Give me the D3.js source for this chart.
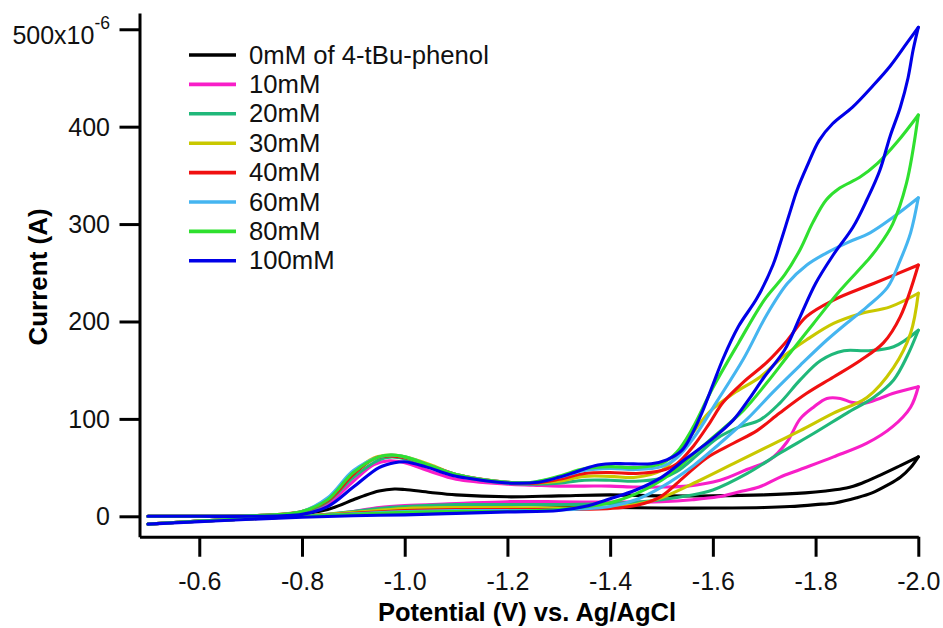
<!DOCTYPE html>
<html>
<head>
<meta charset="utf-8">
<script src="https://cdn.jsdelivr.net/npm/d3@7"></script>
<style>
  body { margin: 0; background: #fff; }
  svg { display: block; font-family: "Liberation Sans", Arial, sans-serif; }
</style>
</head>
<body>
<div id="vis-container"></div>
<script>
// potential in V vs Ag/AgCl, current in microamps (axis reads x10^-6 A)
// fwd = scan from -0.5 V out to -2.0 V, rev = the way back
let fwd0 = [[-0.5,-8],[-0.6,-5],[-0.7,-2.5],[-0.8,0],[-0.9,2],[-1.0,4],[-1.1,5.5],[-1.2,7],[-1.3,9],[-1.4,9],[-1.5,8.5],[-1.6,8.5],[-1.7,9],[-1.75,10],[-1.8,12],[-1.84,14],[-1.88,19],[-1.91,24],[-1.94,32],[-1.965,40],[-1.985,50],[-2.0,61]];
let rev0 = [[-2.0,61],[-1.965,52],[-1.925,42],[-1.89,34],[-1.86,29],[-1.82,26],[-1.78,24],[-1.7,22],[-1.6,21],[-1.5,21],[-1.4,22],[-1.3,21],[-1.2,20],[-1.1,22],[-1.05,24.5],[-1.0,27.5],[-0.98,28],[-0.95,26],[-0.92,21],[-0.9,17],[-0.85,7],[-0.8,2.5],[-0.7,0.5],[-0.6,0],[-0.5,0]];

let fwd10 = [[-0.5,-8],[-0.6,-5],[-0.7,-2.5],[-0.8,0],[-0.9,5],[-0.95,9],[-1.0,11],[-1.1,13],[-1.2,15],[-1.3,15],[-1.4,14.5],[-1.5,15],[-1.56,17],[-1.61,20],[-1.65,25],[-1.69,30],[-1.73,40],[-1.77,48],[-1.835,61],[-1.9,75],[-1.95,92],[-1.985,112],[-2.0,133]];
let rev10 = [[-2.0,133],[-1.95,126],[-1.925,121],[-1.894,116],[-1.87,117],[-1.848,121],[-1.822,121],[-1.796,112],[-1.77,100],[-1.744,76],[-1.711,58],[-1.666,48],[-1.614,37],[-1.55,31],[-1.5,30],[-1.45,30],[-1.4,31],[-1.35,31],[-1.3,31],[-1.25,32],[-1.2,33],[-1.1,38],[-1.05,46],[-1.0,55],[-0.97,57],[-0.94,53],[-0.9,36],[-0.85,13],[-0.8,3.5],[-0.7,0.5],[-0.6,0],[-0.5,0]];

let fwd20 = [[-0.5,-8],[-0.6,-5],[-0.7,-2.5],[-0.8,0],[-0.9,5],[-0.95,8],[-1.0,10],[-1.1,12],[-1.2,12],[-1.3,12],[-1.4,13],[-1.5,17],[-1.55,21],[-1.6,27],[-1.667,44],[-1.731,65],[-1.796,85],[-1.861,106],[-1.913,122],[-1.952,140],[-1.978,164],[-2.0,191]];
let rev20 = [[-2.0,191],[-1.952,174],[-1.9,170],[-1.855,170],[-1.81,160],[-1.77,140],[-1.73,116],[-1.692,99],[-1.653,92],[-1.608,80],[-1.57,63],[-1.53,46],[-1.5,39],[-1.45,36],[-1.4,37],[-1.35,37],[-1.3,34],[-1.25,33],[-1.2,34],[-1.1,42],[-1.05,51],[-1.0,59],[-0.975,61],[-0.95,58],[-0.9,40],[-0.85,15],[-0.8,4],[-0.7,0.5],[-0.6,0],[-0.5,0]];

let fwd30 = [[-0.5,-8],[-0.6,-5],[-0.7,-2.5],[-0.8,0],[-0.9,4],[-1.0,8],[-1.1,9],[-1.2,9],[-1.3,8.5],[-1.4,9.5],[-1.45,12],[-1.5,19],[-1.575,37],[-1.64,54],[-1.705,71],[-1.77,88],[-1.835,106],[-1.9,122],[-1.952,153],[-1.985,188],[-2.0,229]];
let rev30 = [[-2.0,229],[-1.945,215],[-1.887,208],[-1.835,198],[-1.782,181],[-1.737,164],[-1.692,143],[-1.64,126],[-1.595,108],[-1.556,82],[-1.53,62],[-1.5,47],[-1.45,40],[-1.4,41],[-1.35,41],[-1.3,36],[-1.25,34],[-1.2,35],[-1.1,43],[-1.05,53],[-1.0,61],[-0.97,63],[-0.94,60],[-0.9,45],[-0.85,18],[-0.8,5],[-0.7,0.5],[-0.6,0],[-0.5,0]];

let fwd40 = [[-0.5,-8],[-0.6,-5],[-0.7,-2.5],[-0.8,0],[-0.9,3],[-1.0,6],[-1.1,7],[-1.2,7],[-1.3,7],[-1.4,8],[-1.45,11],[-1.498,20],[-1.543,40],[-1.588,60],[-1.64,75],[-1.686,88],[-1.73,106],[-1.782,126],[-1.835,143],[-1.887,160],[-1.932,178],[-1.965,205],[-2.0,258]];
let rev40 = [[-2.0,258],[-1.913,239],[-1.835,222],[-1.782,205],[-1.744,180],[-1.705,158],[-1.66,138],[-1.62,117],[-1.594,96],[-1.562,72],[-1.53,54],[-1.5,47],[-1.45,44],[-1.4,45],[-1.35,44],[-1.3,38],[-1.25,34],[-1.2,35],[-1.1,43],[-1.05,52],[-1.0,60],[-0.97,62],[-0.94,59],[-0.9,43],[-0.85,16],[-0.8,5],[-0.7,0.5],[-0.6,0],[-0.5,0]];

let fwd60 = [[-0.5,-8],[-0.6,-5],[-0.7,-2.5],[-0.8,0],[-0.9,2.5],[-1.0,5],[-1.1,6],[-1.2,6],[-1.3,6.5],[-1.4,10],[-1.45,17],[-1.5,30],[-1.562,52],[-1.614,75],[-1.667,100],[-1.718,128],[-1.77,155],[-1.822,181],[-1.86,198],[-1.9,215],[-1.94,235],[-1.965,263],[-1.985,291],[-2.0,327]];
let rev60 = [[-2.0,327],[-1.951,307],[-1.906,291],[-1.862,281],[-1.82,270],[-1.783,258],[-1.745,239],[-1.705,207],[-1.66,162],[-1.608,118],[-1.562,80],[-1.53,60],[-1.5,51],[-1.45,48],[-1.4,49],[-1.35,47],[-1.3,40],[-1.25,35],[-1.2,35],[-1.1,43],[-1.05,52],[-1.0,61],[-0.975,63],[-0.95,61],[-0.9,47],[-0.85,19],[-0.8,5],[-0.7,0.5],[-0.6,0],[-0.5,0]];

let fwd80 = [[-0.5,-8],[-0.6,-5],[-0.7,-2.5],[-0.8,0],[-0.9,2],[-1.0,4],[-1.1,5],[-1.2,5],[-1.3,7],[-1.4,14],[-1.45,23],[-1.5,37],[-1.543,55],[-1.6,81],[-1.66,109],[-1.705,137],[-1.745,164],[-1.796,198],[-1.848,232],[-1.9,262],[-1.92,275],[-1.95,300],[-1.977,342],[-2.0,412]];
let rev80 = [[-2.0,412],[-1.96,385],[-1.92,362],[-1.886,348],[-1.847,337],[-1.821,325],[-1.795,302],[-1.77,274],[-1.74,248],[-1.7,222],[-1.65,178],[-1.6,132],[-1.56,90],[-1.53,66],[-1.5,54],[-1.45,50],[-1.4,51],[-1.35,49],[-1.3,41],[-1.25,35],[-1.2,35],[-1.1,43],[-1.05,52],[-1.0,61],[-0.975,63],[-0.95,61],[-0.9,45],[-0.85,17],[-0.8,5],[-0.7,0.5],[-0.6,0],[-0.5,0]];

let fwd100 = [[-0.5,-8],[-0.6,-5.5],[-0.7,-3],[-0.8,-1],[-0.9,0.5],[-1.0,1.5],[-1.1,3],[-1.2,4.5],[-1.3,6],[-1.35,10],[-1.4,18],[-1.45,27],[-1.5,40],[-1.55,60],[-1.6,80],[-1.64,99],[-1.67,120],[-1.7,143],[-1.74,171],[-1.77,205],[-1.8,239],[-1.834,268],[-1.873,297],[-1.9,325],[-1.925,355],[-1.945,390],[-1.965,420],[-1.98,450],[-1.99,479],[-2.0,502]];
let rev100 = [[-2.0,502],[-1.978,486],[-1.945,462],[-1.91,441],[-1.872,420],[-1.833,403],[-1.807,386],[-1.783,359],[-1.764,335],[-1.75,312],[-1.731,280],[-1.717,258],[-1.686,224],[-1.65,195],[-1.62,162],[-1.6,135],[-1.58,108],[-1.56,85],[-1.54,68],[-1.51,58],[-1.48,54],[-1.43,54],[-1.4,54],[-1.37,52],[-1.33,45],[-1.3,40],[-1.26,35],[-1.21,34],[-1.15,37],[-1.1,41],[-1.08,44],[-1.04,51],[-1.0,56],[-0.98,55],[-0.95,50],[-0.9,30],[-0.85,10],[-0.8,2],[-0.7,0],[-0.6,0],[-0.5,0]];

let labels = ["0mM of 4-tBu-phenol", "10mM", "20mM", "30mM", "40mM", "60mM", "80mM", "100mM"];
let colors = ["#000000", "#f81ec8", "#20b87a", "#c9c800", "#f01010", "#45b5f0", "#2fe02f", "#0000e8"];
let yTicks = [0, 100, 200, 300, 400, 500];
let xTicks = [-0.6, -0.8, -1.0, -1.2, -1.4, -1.6, -1.8, -2.0];

let scans = [
  [fwd0, rev0], [fwd10, rev10], [fwd20, rev20], [fwd30, rev30],
  [fwd40, rev40], [fwd60, rev60], [fwd80, rev80], [fwd100, rev100]
];

let width = 943;
let height = 628;

let x = d3.scaleLinear().domain([-0.4836, -2.0]).range([139.5, 918.3]);
let y = d3.scaleLinear().domain([-21, 516.7]).range([536.75, 13]);

let svg = d3.select("#vis-container")
  .append("svg")
  .attr("width", width)
  .attr("height", height);

let line = d3.line()
  .x(d => x(d[0]))
  .y(d => y(d[1]))
  .curve(d3.curveCatmullRom.alpha(0.5));

// each scan drawn as two branches so the turn at -2.0 V stays sharp
let g = svg.append("g").attr("class", "traces");
scans.forEach(function (scan, i) {
  scan.forEach(function (branch) {
    let pts = branch.slice().sort((a, b) => x(a[0]) - x(b[0]));
    g.append("path")
      .attr("d", line(pts))
      .attr("fill", "none")
      .attr("stroke", colors[i])
      .attr("stroke-width", 3.1)
      .attr("stroke-linejoin", "round")
      .attr("stroke-linecap", "round");
  });
});

// axes
let yAxis = svg.append("g")
  .attr("transform", "translate(139.5,0)")
  .call(d3.axisLeft(y).tickValues(yTicks).tickSize(20).tickSizeOuter(0).tickPadding(9.5).tickFormat(d => d));

let xAxis = svg.append("g")
  .attr("transform", "translate(0,536.75)")
  .call(d3.axisBottom(x).tickValues(xTicks).tickSize(20).tickSizeOuter(0).tickPadding(15.5).tickFormat(d => d.toFixed(1)));

[yAxis, xAxis].forEach(function (ax) {
  ax.select(".domain").attr("stroke", "#000").attr("stroke-width", 3);
  ax.selectAll(".tick line").attr("stroke", "#000").attr("stroke-width", 3);
  ax.selectAll(".tick text")
    .attr("fill", "#111")
    .style("font-family", "'Liberation Sans', Arial, sans-serif")
    .style("font-size", "25px");
});
yAxis.selectAll(".tick text").attr("dy", "0.34em");

// top label carries the exponent
let topLabel = yAxis.selectAll(".tick text").filter(d => d === 500);
topLabel.text("").attr("dy", "0.55em");
topLabel.append("tspan").text("500x10");
topLabel.append("tspan").attr("dy", -14.5).style("font-size", "17.5px").text("-6");

// axis titles
svg.append("text")
  .attr("x", 527)
  .attr("y", 621)
  .attr("text-anchor", "middle")
  .style("font-size", "25.5px")
  .style("font-weight", "bold")
  .text("Potential (V) vs. Ag/AgCl");

svg.append("text")
  .attr("transform", "translate(47,277) rotate(-90)")
  .attr("text-anchor", "middle")
  .style("font-size", "26px")
  .style("font-weight", "bold")
  .text("Current (A)");

// legend
let legend = svg.append("g").attr("class", "legend");
labels.forEach(function (name, i) {
  let ly = 55 + i * 29.4;
  legend.append("line")
    .attr("x1", 189).attr("x2", 236)
    .attr("y1", ly).attr("y2", ly)
    .attr("stroke", colors[i])
    .attr("stroke-width", 3.6);
  legend.append("text")
    .attr("x", 249)
    .attr("y", ly + 8.5)
    .attr("fill", "#111")
    .style("font-size", "25.7px")
    .text(name);
});
</script>
</body>
</html>
